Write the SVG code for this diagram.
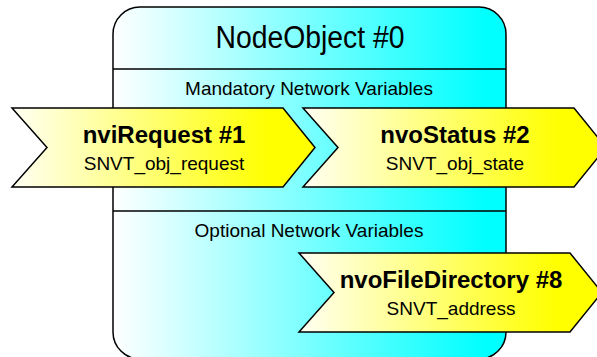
<svg xmlns="http://www.w3.org/2000/svg" width="597" height="357" viewBox="0 0 597 357">
  <defs>
    <linearGradient id="boxGrad" x1="0" y1="0" x2="1" y2="0">
      <stop offset="0" stop-color="#ffffff"/>
      <stop offset="0.95" stop-color="#00ffff"/>
      <stop offset="1" stop-color="#00ffff"/>
    </linearGradient>
    <linearGradient id="nvGrad" x1="0" y1="0" x2="1" y2="0">
      <stop offset="0" stop-color="#fffff4"/>
      <stop offset="0.85" stop-color="#ffff00"/>
      <stop offset="1" stop-color="#ffff00"/>
    </linearGradient>
    <style>
      .box { fill: url(#boxGrad); stroke: #000; stroke-width: 1.5; }
      .div { stroke: #000; stroke-width: 1.5; fill: none; }
      .nv { fill: url(#nvGrad); stroke: #000; stroke-width: 1.5; stroke-linejoin: miter; }
      .title { font-family: "Liberation Sans", Arial, sans-serif; font-size: 31px; fill: #000; text-anchor: middle; }
      .sect { font-family: "Liberation Sans", Arial, sans-serif; font-size: 19px; fill: #000; text-anchor: middle; }
      .name { font-family: "Liberation Sans", Arial, sans-serif; font-size: 24px; font-weight: bold; fill: #000; text-anchor: middle; }
      .type { font-family: "Liberation Sans", Arial, sans-serif; font-size: 19px; fill: #000; text-anchor: middle; }
    </style>
  </defs>

  <g id="NodeObject0">
    <rect class="box" x="113" y="7" width="393" height="352" rx="27" ry="27"/>
    <line class="div" x1="113" y1="69" x2="506" y2="69"/>
    <line class="div" x1="113" y1="211" x2="506" y2="211"/>
    <text class="title" x="310" y="48" textLength="189" lengthAdjust="spacingAndGlyphs">NodeObject #0</text>
    <text class="sect" x="309" y="95">Mandatory Network Variables</text>
    <text class="sect" x="309" y="237">Optional Network Variables</text>
  </g>

  <g id="connectors"></g>

  <g id="nviRequest1">
    <polygon class="nv" points="12,108 283,108 315,147.5 283,187 12,187 47,147.5"/>
    <text class="name" x="164" y="143">nviRequest #1</text>
    <text class="type" x="164" y="170">SNVT_obj_request</text>
  </g>

  <g id="nvoStatus2">
    <polygon class="nv" points="303,108 574,108 606,147.5 574,187 303,187 338,147.5"/>
    <text class="name" x="455" y="143">nvoStatus #2</text>
    <text class="type" x="455" y="170">SNVT_obj_state</text>
  </g>

  <g id="nvoFileDirectory8">
    <polygon class="nv" points="299,253 570,253 602,292.5 570,332 299,332 334,292.5"/>
    <text class="name" x="451" y="288">nvoFileDirectory #8</text>
    <text class="type" x="451" y="315">SNVT_address</text>
  </g>
</svg>
